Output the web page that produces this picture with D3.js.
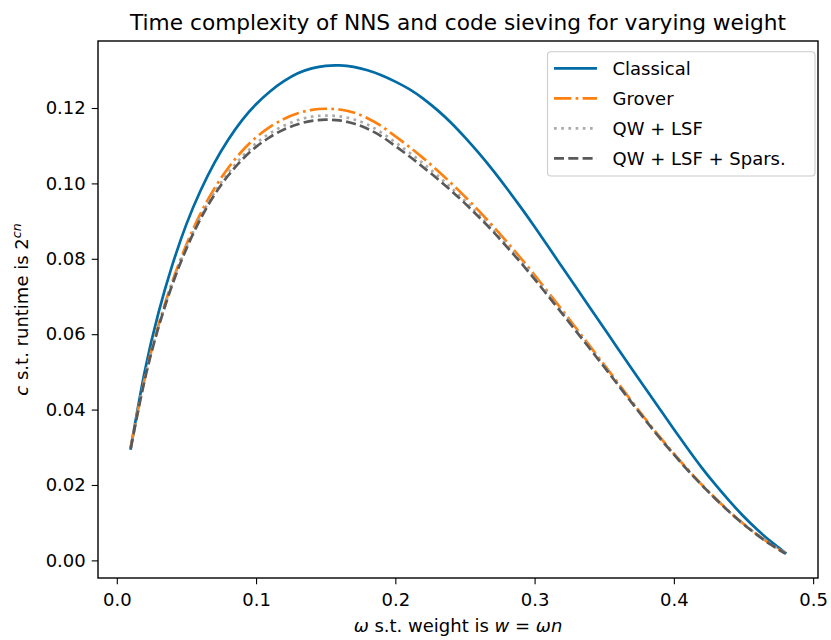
<!DOCTYPE html>
<html><head><meta charset="utf-8">
<script src="https://cdn.jsdelivr.net/npm/d3@7"></script>
<style>body{margin:0;background:#fff}svg{display:block}text{font-family:"DejaVu Sans",sans-serif;fill:#000}</style>
</head><body>
<svg id="c" width="831" height="640"></svg>
<script>
const omega = [0.01,0.02,0.03,0.04,0.05,0.06,0.07,0.08,0.09,0.10,0.11,0.12,0.13,0.14,0.15,0.16,0.17,0.18,0.19,0.20,0.21,0.22,0.23,0.24,0.25,0.26,0.27,0.28,0.29,0.30,0.31,0.32,0.33,0.34,0.35,0.36,0.37,0.38,0.39,0.40,0.41,0.42,0.43,0.44,0.45,0.46,0.47,0.48];
const classical = [0.0297,0.0500,0.0658,0.0785,0.0892,0.0980,0.1054,0.1116,0.1168,0.1210,0.1244,0.1271,0.1292,0.1305,0.1312,0.1313,0.1309,0.1300,0.1287,0.1270,0.1250,0.1225,0.1195,0.1161,0.1122,0.1080,0.1035,0.0987,0.0937,0.0885,0.0831,0.0777,0.0723,0.0669,0.0615,0.0561,0.0507,0.0454,0.0401,0.0348,0.0296,0.0246,0.0200,0.0157,0.0117,0.0081,0.0049,0.0020];
const grover = [0.0300,0.0482,0.0625,0.0741,0.0838,0.0919,0.0986,0.1041,0.1086,0.1122,0.1150,0.1171,0.1186,0.1195,0.1198,0.1196,0.1188,0.1173,0.1152,0.1125,0.1097,0.1067,0.1035,0.1001,0.0965,0.0927,0.0887,0.0845,0.0802,0.0757,0.0710,0.0663,0.0615,0.0567,0.0519,0.0470,0.0421,0.0373,0.0327,0.0283,0.0241,0.0201,0.0164,0.0129,0.0097,0.0068,0.0042,0.0019];
const qwLsf = [0.0299,0.0480,0.0621,0.0736,0.0831,0.0910,0.0975,0.1028,0.1071,0.1106,0.1133,0.1153,0.1168,0.1177,0.1180,0.1178,0.1170,0.1156,0.1135,0.1109,0.1082,0.1053,0.1022,0.0989,0.0954,0.0917,0.0878,0.0837,0.0795,0.0751,0.0705,0.0658,0.0611,0.0563,0.0516,0.0467,0.0419,0.0371,0.0325,0.0282,0.0240,0.0200,0.0163,0.0128,0.0096,0.0068,0.0042,0.0019];
const qwLsfSpars = [0.0297,0.0478,0.0619,0.0733,0.0827,0.0905,0.0969,0.1021,0.1063,0.1097,0.1123,0.1143,0.1157,0.1166,0.1169,0.1167,0.1159,0.1145,0.1125,0.1099,0.1072,0.1043,0.1013,0.0981,0.0947,0.0911,0.0873,0.0832,0.0790,0.0746,0.0700,0.0654,0.0607,0.0560,0.0513,0.0465,0.0417,0.0370,0.0324,0.0281,0.0239,0.0200,0.0163,0.0128,0.0096,0.0067,0.0041,0.0018];
const seriesNames = ["Classical","Grover","QW + LSF","QW + LSF + Spars."];
const xTicks = [0.0,0.1,0.2,0.3,0.4,0.5];
const yTicks = [0.00,0.02,0.04,0.06,0.08,0.10,0.12];

const styles = [
  {color:"#006BA4", dash:null},
  {color:"#FF800E", dash:"17.3,4.3,2.7,4.3"},
  {color:"#ABABAB", dash:"2.7,4.5"},
  {color:"#595959", dash:"10,4.3"}
];
const seriesVals = [classical, grover, qwLsf, qwLsfSpars];
const series = seriesNames.map((n,i)=>({name:n, vals:omega.map((w,j)=>[w, seriesVals[i][j]]), style:styles[i]}));

const L=98, R=818, T=41, B=578;
const svg = d3.select("#c");
const xe = d3.extent(omega), xm=(xe[1]-xe[0])*0.05;
const allY = seriesVals.flat(); const ye = d3.extent(allY), ym=(ye[1]-ye[0])*0.05;
const x = d3.scaleLinear().domain([xe[0]-xm, xe[1]+xm]).range([L,R]);
const y = d3.scaleLinear().domain([ye[0]-ym, ye[1]+ym]).range([B,T]);

svg.append("clipPath").attr("id","clp").append("rect").attr("x",L).attr("y",T).attr("width",R-L).attr("height",B-T);

const line = d3.line().x(d=>x(d[0])).y(d=>y(d[1])).curve(d3.curveNatural);
const g = svg.append("g").attr("clip-path","url(#clp)");
series.forEach(s=>{
  g.append("path").datum(s.vals).attr("d",line).attr("fill","none")
   .attr("stroke",s.style.color).attr("stroke-width",2.7)
   .attr("stroke-dasharray",s.style.dash).attr("stroke-linecap", s.style.dash? "butt":"square").attr("stroke-linejoin","round");
});

const xa = svg.append("g").attr("transform",`translate(0,${B})`)
  .call(d3.axisBottom(x).tickValues(xTicks).tickFormat(d3.format(".1f")).tickSize(6.3).tickPadding(6));
const ya = svg.append("g").attr("transform",`translate(${L},0)`)
  .call(d3.axisLeft(y).tickValues(yTicks).tickFormat(d3.format(".2f")).tickSize(6.3).tickPadding(6));
[xa,ya].forEach(a=>{
  a.select(".domain").remove();
  a.selectAll(".tick line").attr("stroke","#000").attr("stroke-width",1.1);
  a.selectAll(".tick text").attr("font-size",18).attr("font-family","DejaVu Sans").attr("fill","#000");
});
xa.selectAll(".tick text").attr("dy","0.85em");
svg.append("rect").attr("x",L).attr("y",T).attr("width",R-L).attr("height",B-T)
  .attr("fill","none").attr("stroke","#000").attr("stroke-width",1.4);

svg.append("text").attr("x",(L+R)/2).attr("y",30).attr("text-anchor","middle").attr("font-size",21.7)
  .text("Time complexity of NNS and code sieving for varying weight");

const xl = svg.append("text").attr("x",(L+R)/2).attr("y",632).attr("text-anchor","middle").attr("font-size",18);
xl.append("tspan").attr("font-style","italic").text("ω");
xl.append("tspan").text(" s.t. weight is ");
xl.append("tspan").attr("font-style","italic").text("w");
xl.append("tspan").text(" = ");
xl.append("tspan").attr("font-style","italic").text("ωn");

const yl = svg.append("text").attr("transform",`translate(28,${(T+B)/2}) rotate(-90)`).attr("text-anchor","middle").attr("font-size",18);
yl.append("tspan").attr("font-style","italic").text("c");
yl.append("tspan").text(" s.t. runtime is 2");
yl.append("tspan").attr("font-style","italic").attr("font-size",12.6).attr("dy",-7).text("cn");

const lg = svg.append("g");
lg.append("rect").attr("x",547.5).attr("y",51.7).attr("width",267.5).attr("height",124.3).attr("rx",3.5)
  .attr("fill","#fff").attr("fill-opacity",0.8).attr("stroke","#cccccc").attr("stroke-width",1.1);
series.forEach((s,i)=>{
  const cy = 68.3 + i*30;
  lg.append("line").attr("x1",554).attr("x2",597).attr("y1",cy).attr("y2",cy)
    .attr("stroke",s.style.color).attr("stroke-width",2.7).attr("stroke-dasharray",s.style.dash);
  lg.append("text").attr("x",612.5).attr("y",cy).attr("dy","0.35em").attr("font-size",18).text(s.name);
});
</script>
</body></html>
